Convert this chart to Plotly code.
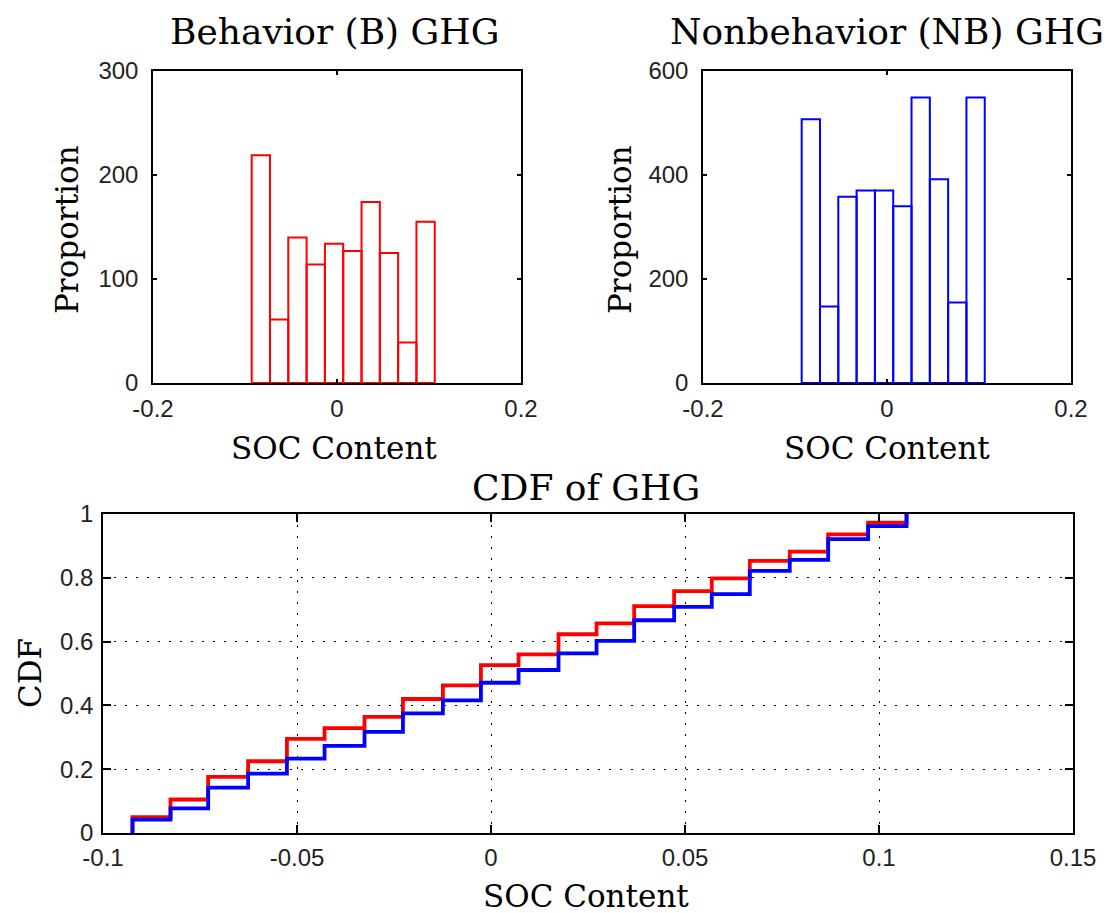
import plotly.graph_objects as go

# ---------------- data ----------------
bin_centers = [-0.0828, -0.0629, -0.0430, -0.0231, -0.0032, 0.0167, 0.0366, 0.0565, 0.0764, 0.0963]
bin_width = 0.0199
b_counts = [219, 61, 140, 114, 134, 127, 174, 125, 39, 155]
nb_counts = [507, 147, 358, 370, 370, 340, 549, 392, 155, 549]

cdf_x = [-0.0924, -0.0826, -0.0729, -0.0626, -0.0526, -0.0429, -0.0326, -0.0227, -0.0124, -0.0026,
         0.0071, 0.0174, 0.0272, 0.0369, 0.0472, 0.0569, 0.0667, 0.0770, 0.0869, 0.0972, 0.1071]
cdf_b = [0.050, 0.105, 0.176, 0.225, 0.295, 0.329, 0.364, 0.420, 0.463, 0.526,
         0.560, 0.623, 0.657, 0.711, 0.758, 0.798, 0.853, 0.882, 0.936, 0.973, 1.0]
cdf_nb = [0.042, 0.077, 0.142, 0.186, 0.233, 0.273, 0.317, 0.375, 0.416, 0.471,
          0.511, 0.563, 0.602, 0.667, 0.709, 0.749, 0.822, 0.856, 0.921, 0.962, 1.0]

hist_xticks = [-0.2, 0, 0.2]
hist_xticklabels = ["-0.2", "0", "0.2"]
b_yticks = [0, 100, 200, 300]
nb_yticks = [0, 200, 400, 600]
cdf_xticks = [-0.1, -0.05, 0, 0.05, 0.1, 0.15]
cdf_xticklabels = ["-0.1", "-0.05", "0", "0.05", "0.1", "0.15"]
cdf_yticks = [0, 0.2, 0.4, 0.6, 0.8, 1]
cdf_yticklabels = ["0", "0.2", "0.4", "0.6", "0.8", "1"]

W, H = 1115, 913
SERIF = "DejaVu Serif"
TICKFONT = dict(family="Liberation Sans Narrow, Liberation Sans, Arial", size=24, color="#222222")

def px_x(a, b):
    return [a / W, b / W]

def px_y(top, bottom):
    return [1 - bottom / H, 1 - top / H]

fig = go.Figure()

fig.add_trace(go.Bar(x=bin_centers, y=b_counts, width=[bin_width] * len(bin_centers),
                     marker=dict(color="rgba(0,0,0,0)", line=dict(color="#ff0000", width=2)),
                     xaxis="x", yaxis="y", showlegend=False))
fig.add_trace(go.Bar(x=bin_centers, y=nb_counts, width=[bin_width] * len(bin_centers),
                     marker=dict(color="rgba(0,0,0,0)", line=dict(color="#0000ff", width=2)),
                     xaxis="x2", yaxis="y2", showlegend=False))

fig.add_trace(go.Scatter(x=[cdf_x[0]] + cdf_x, y=[0] + cdf_b, mode="lines", line_shape="hv",
                         line=dict(color="#ff0000", width=3.8), xaxis="x3", yaxis="y3", showlegend=False))
fig.add_trace(go.Scatter(x=[cdf_x[0]] + cdf_x, y=[0] + cdf_nb, mode="lines", line_shape="hv",
                         line=dict(color="#0000ff", width=3.8), xaxis="x3", yaxis="y3", showlegend=False))

common = dict(showline=True, linecolor="black", linewidth=1.5, mirror="ticks", ticks="inside",
              tickcolor="black", tickwidth=1.5, tickfont=TICKFONT, zeroline=False, showgrid=False,
              automargin=False)
grid = dict(showgrid=True, gridcolor="black", griddash="2px,9px", gridwidth=1.2)

fig.update_layout(
    width=W, height=H, margin=dict(l=0, r=0, t=0, b=0, autoexpand=False),
    paper_bgcolor="white", plot_bgcolor="white", barmode="overlay",
    xaxis=dict(domain=px_x(153, 521), range=[-0.2, 0.2], tickvals=hist_xticks, ticktext=hist_xticklabels,
               ticklen=4, anchor="y", ticklabelstandoff=3, **common),
    yaxis=dict(domain=px_y(71, 383), range=[0, 300], tickvals=b_yticks, ticklen=4, anchor="x",
               ticklabelstandoff=8, **common),
    xaxis2=dict(domain=px_x(703, 1071), range=[-0.2, 0.2], tickvals=hist_xticks, ticktext=hist_xticklabels,
                ticklen=4, anchor="y2", ticklabelstandoff=3, **common),
    yaxis2=dict(domain=px_y(71, 383), range=[0, 600], tickvals=nb_yticks, ticklen=4, anchor="x2",
                ticklabelstandoff=8, **common),
    xaxis3=dict(domain=px_x(103, 1073), range=[-0.1, 0.15], tickvals=cdf_xticks, ticktext=cdf_xticklabels,
                ticklen=8, anchor="y3", ticklabelstandoff=2, **{**common, **grid}),
    yaxis3=dict(domain=px_y(514, 833), range=[0, 1], tickvals=cdf_yticks, ticktext=cdf_yticklabels,
                ticklen=8, anchor="x3", ticklabelstandoff=3, **{**common, **grid}),
)

def ann(text, x, y, size, angle=0):
    fig.add_annotation(text=text, x=x / W, y=1 - y / H, xref="paper", yref="paper",
                       xanchor="center", yanchor="middle", showarrow=False, textangle=angle,
                       font=dict(family=SERIF, size=size, color="black"))

ann("Behavior (B) GHG", 334, 31, 36)
ann("Nonbehavior (NB) GHG", 887, 31, 36)
ann("SOC Content", 334, 448, 31)
ann("SOC Content", 887, 448, 31)
ann("Proportion", 67, 230, 31, -90)
ann("Proportion", 620, 230, 31, -90)
ann("CDF of GHG", 586, 487, 36)
ann("SOC Content", 586, 896, 31)
ann("CDF", 30, 673, 31, -90)

fig.write_html("out.html")
